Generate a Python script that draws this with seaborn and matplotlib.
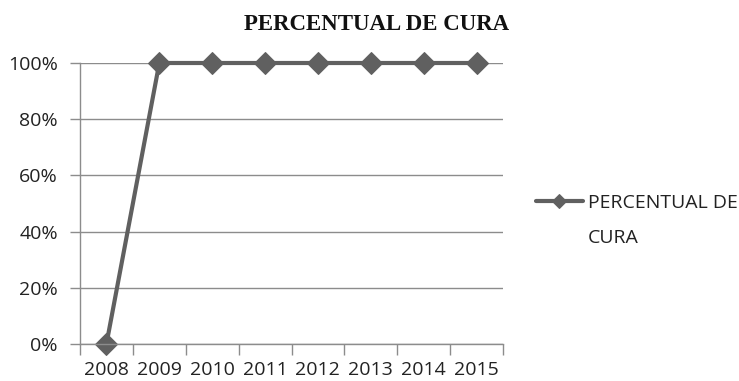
import matplotlib
matplotlib.use("Agg")
import matplotlib.pyplot as plt
import seaborn as sns
import pandas as pd
import numpy as np
from matplotlib.ticker import FixedLocator, PercentFormatter

years = ["2008", "2009", "2010", "2011", "2012", "2013", "2014", "2015"]
cura = [0.0, 1.0, 1.0, 1.0, 1.0, 1.0, 1.0, 1.0]
series_name = "PERCENTUAL DE CURA"
legend_lines = ["PERCENTUAL DE", "CURA"]
yticks = [0.0, 0.2, 0.4, 0.6, 0.8, 1.0]

sns.set_theme(style="white")
plt.rcParams["font.family"] = ["Open Sans", "DejaVu Sans"]

df = pd.DataFrame({"pos": np.arange(len(years)), "valor": cura})

W, H = 739, 381
fig = plt.figure(figsize=(W / 100, H / 100), dpi=100)
ax = fig.add_axes([80 / W, 1 - 344 / H, (503 - 80) / W, (344 - 63) / H])

line_col = "#606060"
grid_col = "#8c8c8c"
txt_col = "#222222"

sns.lineplot(data=df, x="pos", y="valor", ax=ax, color=line_col, linewidth=3,
             marker="D", markersize=11, markeredgecolor=line_col,
             label=legend_lines[0], clip_on=False)

ax.set_xlim(-0.5, len(years) - 0.5)
ax.set_ylim(0, 1)
ax.set_xticks(np.arange(len(years)))
ax.set_xticklabels(years, fontsize=14, color=txt_col)
ax.xaxis.set_minor_locator(FixedLocator(np.arange(len(years) + 1) - 0.5))
ax.tick_params(axis="x", which="major", length=0, pad=12)
ax.tick_params(axis="x", which="minor", length=8, color=grid_col, width=1,
               direction="out", bottom=True)
ax.set_yticks(yticks)
ax.yaxis.set_major_formatter(PercentFormatter(1.0, decimals=0))
ax.tick_params(axis="y", length=7, color=grid_col, width=1, labelsize=14,
               labelcolor=txt_col, left=True, pad=9)
ax.set_xlabel("")
ax.set_ylabel("")
ax.grid(axis="y", color=grid_col, linewidth=1)
ax.set_axisbelow(True)
for s in ["top", "right"]:
    ax.spines[s].set_visible(False)
for s in ["left", "bottom"]:
    ax.spines[s].set_color(grid_col)
    ax.spines[s].set_linewidth(1)

fig.text(377 / W, 1 - 24 / H, series_name, ha="center", va="center",
         fontsize=16.5, fontweight="bold", family="Liberation Serif", color="#111111")

leg = ax.legend(loc="center left", bbox_to_anchor=(536 / W, 1 - 203 / H),
                bbox_transform=fig.transFigure, frameon=False, borderpad=0,
                borderaxespad=0, fontsize=14, handlelength=2.4, handletextpad=0.25,
                labelcolor=txt_col)
for h in leg.legend_handles:
    h.set_markersize(7)
fig.text(588 / W, 1 - 238 / H, legend_lines[1], ha="left", va="center",
         fontsize=14, color=txt_col)

fig.savefig("out.png", dpi=100)
